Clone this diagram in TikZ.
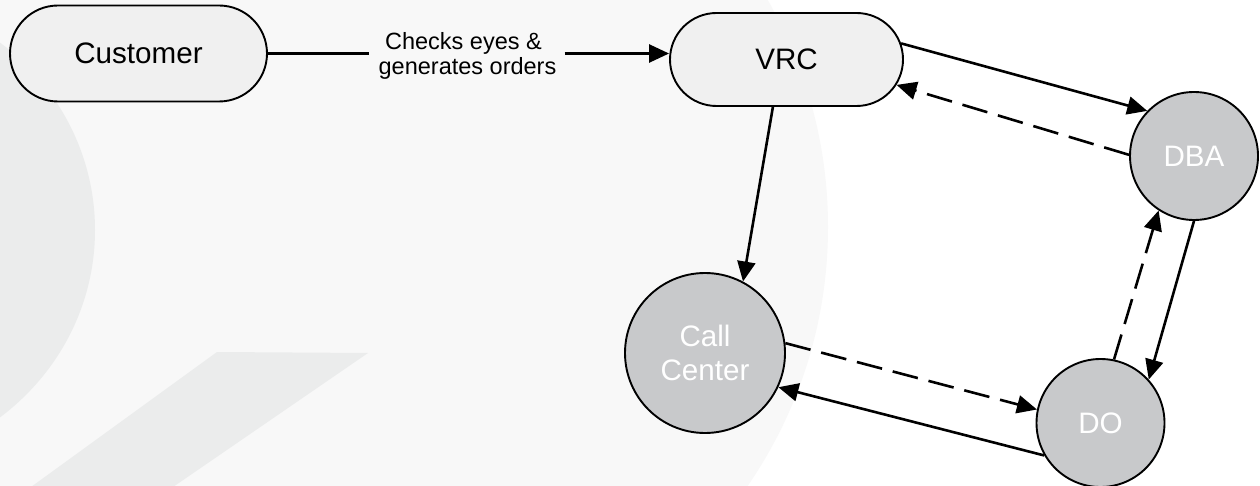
\documentclass[tikz,border=0pt]{standalone}
\usepackage{fontspec}
\setmainfont{Liberation Sans}
\usetikzlibrary{arrows.meta,shapes.misc}
\definecolor{bgpale}{HTML}{F8F8F8}
\definecolor{bgmark}{HTML}{EBECEC}
\definecolor{pillfill}{HTML}{F0F0F0}
\definecolor{discfill}{HTML}{C8C9CB}

\begin{document}
\begin{tikzpicture}[x=1pt,y=-1pt,
  pill/.style={draw=black, line width=1.9pt, fill=pillfill, rounded rectangle,
    font=\fontsize{29.6}{34}\selectfont, inner sep=0pt},
  disc/.style={draw=black, line width=1.9pt, fill=discfill, circle, text=white,
    font=\fontsize{29.6}{34}\selectfont, align=center, inner sep=0pt},
  link/.style={line width=2.6pt, -{Triangle[length=20pt,width=18pt]}},
  dashlink/.style={link, dash pattern=on 26pt off 11pt},
]
\useasboundingbox (0,0) rectangle (1260,486);
\fill[white] (0,0) rectangle (1260,486);

% watermark shapes behind the chart
\begin{scope}
  \clip (0,0) rectangle (1260,486);
  \fill[bgpale] (371,227) circle [radius=457];
  \fill[bgmark] (-150,230) ellipse [x radius=245, y radius=237];
  \fill[bgmark] (217,352) -- (368,353) -- (173,487) -- (31,487) -- cycle;
\end{scope}

% nodes
\node[pill, minimum width=257pt, minimum height=96pt] (cust) at (138.5,53.5) {Customer};
\node[pill, minimum width=233pt, minimum height=93pt] (vrc) at (786.5,59.5) {VRC};
\node[disc, minimum size=160pt] (cc) at (705,353) {Call\\Center};
\node[disc, minimum size=128pt] (dba) at (1194,156) {DBA};
\node[disc, minimum size=128pt] (do) at (1100.5,423) {DO};
\node[font=\fontsize{23.5}{25}\selectfont, align=center, inner sep=0pt] (lbl)
  at (467.5,55.5) {Checks eyes \&\hbox to 8pt{}\\generates orders};

% connectors
\draw[line width=2.6pt] (cust.east) -- ([xshift=-9pt]lbl.west |- cust.east);
\draw[link] ([xshift=8pt]lbl.east |- cust.east) -- (cust.east -| vrc.west);
\draw[link] (vrc.8.7) -- (dba.136);
\draw[dashlink] (dba.179) -- (vrc.-13.3);
\draw[link] (vrc.-106.2) -- (cc.62.8);
\draw[link] (dba.270) -- (do.42.8);
\draw[dashlink] (do.78.8) -- (dba.237);
\draw[dashlink] (cc.7.7) -- (do.168);
\draw[link] (do.210) -- (cc.-25);
\end{tikzpicture}
\end{document}
